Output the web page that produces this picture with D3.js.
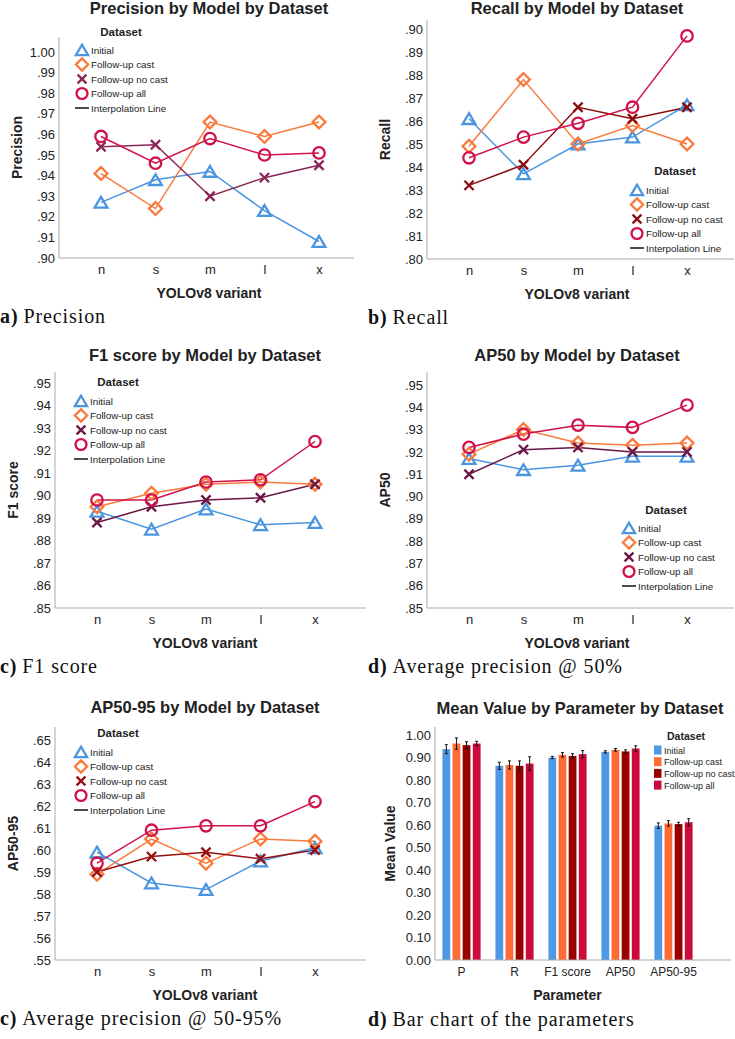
<!DOCTYPE html>
<html>
<head>
<meta charset="utf-8">
<script src="https://cdn.jsdelivr.net/npm/d3@7"></script>
<style>
body { margin: 0; background: #fff; }
svg text { font-family: Arial, "Liberation Sans", sans-serif; fill: #222; }
svg text.cap { font-family: "Liberation Serif", "Times New Roman", serif; fill: #111; letter-spacing: 0.9px; }
</style>
</head>
<body>
<svg id="fig" width="735" height="1039"></svg>
<script>
// data
const variants = ["n", "s", "m", "l", "x"];
const datasets = ["Initial", "Follow-up cast", "Follow-up no cast", "Follow-up all"];
// one row per dataset, one value per variant
const precisionVals = [
    [.927, .938, .942, .923, .908],
    [.941, .924, .966, .959, .966],
    [.954, .955, .930, .939, .945],
    [.959, .946, .958, .950, .951]];
const recallVals = [
    [.861, .837, .850, .853, .867],
    [.849, .878, .850, .858, .850],
    [.832, .841, .866, .861, .866],
    [.844, .853, .859, .866, .897]];
const f1Vals = [
    [.893, .885, .894, .887, .888],
    [.895, .901, .905, .906, .905],
    [.888, .895, .898, .899, .905],
    [.898, .898, .906, .907, .924]];
const ap50Vals = [
    [.917, .912, .914, .918, .918],
    [.919, .930, .924, .923, .924],
    [.910, .921, .922, .920, .920],
    [.922, .928, .932, .931, .941]];
const ap5095Vals = [
    [.599, .585, .582, .595, .601],
    [.589, .605, .594, .605, .604],
    [.590, .597, .599, .596, .600],
    [.594, .609, .611, .611, .622]];
// bar chart: one row per dataset, one value per parameter
const params = ["P", "R", "F1 score", "AP50", "AP50-95"];
const barMeans = [
    [.937, .863, .900, .925, .597],
    [.962, .867, .912, .934, .607],
    [.955, .863, .907, .927, .604],
    [.962, .873, .915, .940, .612]];
const barErrs = [
    [.020, .016, .005, .005, .012],
    [.025, .018, .010, .006, .012],
    [.015, .022, .010, .007, .008],
    [.010, .030, .016, .012, .016]];

// styles
const initialColor = "#4a95e0";
const castColor = "#f97a3c";
const allColor = "#d0124a";
const barColors = ["#4f98e4", "#ff6b35", "#990000", "#cc0a3c"];
const axisColor = "#a9a9a9";
const markerTypes = ["tri", "diamond", "x", "circle"];
const fmtTick = d => d3.format(".2f")(d).replace(/^0/, "");
const fontStack = "Arial, 'Liberation Sans', sans-serif";

const svg = d3.select("#fig");

const markerPath = (type, s) => {
    if (type === "tri") return `M0,${-s * 0.5}L${s * 0.58},${s * 0.48}L${-s * 0.58},${s * 0.48}Z`;
    if (type === "diamond") return `M0,${-s * 0.58}L${s * 0.58},0L0,${s * 0.58}L${-s * 0.58},0Z`;
    if (type === "x") return `M${-s * 0.42},${-s * 0.42}L${s * 0.42},${s * 0.42}M${s * 0.42},${-s * 0.42}L${-s * 0.42},${s * 0.42}`;
    const r = s * 0.52;
    return `M${r},0A${r},${r} 0 1,1 ${-r},0A${r},${r} 0 1,1 ${r},0`;
};

// panels with lines (layout only)
const linePanels = [
    { vals: precisionVals, title: "Precision by Model by Dataset", yLab: "Precision", cap: ["a)", "Precision"],
      left: 59, right: 354, top: 37, bottom: 258, tickMin: .90, tickTopPx: 52, noCast: "#8b2658", titleY: 14,
      leg: { tx: 121, ty: 36, mx: 82, ry: 50 } },
    { vals: recallVals, title: "Recall by Model by Dataset", yLab: "Recall", cap: ["b)", "Recall"],
      left: 427, right: 734, top: 20, bottom: 259, tickMin: .80, tickTopPx: 29, noCast: "#8c0f0f", titleY: 14,
      leg: { tx: 675, ty: 175, mx: 637, ry: 190 } },
    { vals: f1Vals, title: "F1 score by Model by Dataset", yLab: "F1 score", cap: ["c)", "F1 score"],
      left: 55, right: 366, top: 372, bottom: 608, tickMin: .85, tickTopPx: 383, noCast: "#6e1644", titleY: 361,
      leg: { tx: 118, ty: 386, mx: 81, ry: 401 } },
    { vals: ap50Vals, title: "AP50 by Model by Dataset", yLab: "AP50", cap: ["d)", "Average precision @ 50%"],
      left: 427, right: 734, top: 372, bottom: 608, tickMin: .85, tickTopPx: 385, noCast: "#6b1646", titleY: 361,
      leg: { tx: 666, ty: 514, mx: 629, ry: 528 } },
    { vals: ap5095Vals, title: "AP50-95 by Model by Dataset", yLab: "AP50-95", cap: ["c)", "Average precision @ 50-95%"],
      left: 55, right: 366, top: 727, bottom: 960, tickMin: .55, tickTopPx: 740, noCast: "#980f0f", titleY: 713,
      leg: { tx: 118, ty: 737, mx: 81, ry: 752 } }
];

const drawFrame = (g, p) => {
    g.append("path")
        .attr("d", `M${p.left},${p.top}V${p.bottom}H${p.right}`)
        .attr("fill", "none")
        .attr("stroke", axisColor)
        .attr("stroke-width", 1);
};

const styleAxisText = (a, size) => a.selectAll("text")
    .attr("font-size", size).attr("fill", "#333").attr("font-family", fontStack);

const drawTexts = (g, p, xTitle, midX) => {
    g.append("text")
        .attr("x", midX).attr("y", p.titleY)
        .attr("text-anchor", "middle")
        .attr("font-weight", "bold").attr("font-size", 16.5)
        .text(p.title);
    g.append("text")
        .attr("x", midX).attr("y", p.bottom + 40)
        .attr("text-anchor", "middle")
        .attr("font-weight", "bold").attr("font-size", 14)
        .text(xTitle);
    g.append("text")
        .attr("transform", `translate(${p.left - 42},${(p.top + p.bottom) / 2}) rotate(-90)`)
        .attr("text-anchor", "middle")
        .attr("dominant-baseline", "central")
        .attr("font-weight", "bold").attr("font-size", 14)
        .text(p.yLab);
    const cap = g.append("text")
        .attr("class", "cap")
        .attr("x", p.left < 200 ? 0 : 368).attr("y", p.bottom + 65)
        .attr("font-size", 20);
    cap.append("tspan").attr("font-weight", "bold").text(p.cap[0]);
    cap.append("tspan").attr("dx", 5).text(p.cap[1]);
};

const drawLinePanel = (p) => {
    const g = svg.append("g");
    const colors = [initialColor, castColor, p.noCast, allColor];
    const x = d3.scalePoint().domain(variants).range([p.left + 42, p.left + 260]);
    const y = d3.scaleLinear().domain([p.tickMin, p.tickMin + 0.1]).range([p.bottom, p.tickTopPx]);
    const ticks = d3.range(11).map(i => +(p.tickMin + i * 0.01).toFixed(2));

    drawFrame(g, p);
    g.append("g")
        .attr("transform", `translate(${p.left},0)`)
        .call(d3.axisLeft(y).tickValues(ticks).tickSize(0).tickPadding(4).tickFormat(fmtTick))
        .call(a => a.select(".domain").remove())
        .call(a => styleAxisText(a, 13));
    g.append("g")
        .attr("transform", `translate(0,${p.bottom})`)
        .call(d3.axisBottom(x).tickSize(0).tickPadding(7))
        .call(a => a.select(".domain").remove())
        .call(a => styleAxisText(a, 13));

    const line = d3.line().x((d, i) => x(variants[i])).y(d => y(d));
    g.selectAll(".series")
        .data(p.vals)
        .enter()
        .append("path")
        .attr("d", d => line(d))
        .attr("fill", "none")
        .attr("stroke", (d, i) => colors[i])
        .attr("stroke-width", 1.5);
    p.vals.forEach((row, si) => {
        g.selectAll(null)
            .data(row)
            .enter()
            .append("path")
            .attr("transform", (d, i) => `translate(${x(variants[i])},${y(d)})`)
            .attr("d", markerPath(markerTypes[si], 11))
            .attr("fill", "none")
            .attr("stroke", colors[si])
            .attr("stroke-width", 2.3);
    });

    // legend
    const lg = g.append("g");
    lg.append("text")
        .attr("x", p.leg.tx).attr("y", p.leg.ty)
        .attr("text-anchor", "middle")
        .attr("font-weight", "bold").attr("font-size", 11.5)
        .text("Dataset");
    const step = 14.5;
    datasets.forEach((name, i) => {
        const yy = p.leg.ry + i * step;
        lg.append("path")
            .attr("transform", `translate(${p.leg.mx},${yy})`)
            .attr("d", markerPath(markerTypes[i], 10.5))
            .attr("fill", "none")
            .attr("stroke", colors[i])
            .attr("stroke-width", 2.3);
        lg.append("text")
            .attr("x", p.leg.mx + 9).attr("y", yy + 3.5)
            .attr("font-size", 9.8)
            .text(name);
    });
    const yi = p.leg.ry + 4 * step;
    lg.append("line")
        .attr("x1", p.leg.mx - 7).attr("x2", p.leg.mx + 7)
        .attr("y1", yi).attr("y2", yi)
        .attr("stroke", "#111").attr("stroke-width", 1.5);
    lg.append("text")
        .attr("x", p.leg.mx + 9).attr("y", yi + 3.5)
        .attr("font-size", 9.8)
        .text("Interpolation Line");

    drawTexts(g, p, "YOLOv8 variant", p.left + 150);
};

linePanels.forEach(drawLinePanel);

// bar chart panel
const bp = { left: 435, right: 731, top: 727, bottom: 960, bandEnd: 700 };
const drawBarPanel = () => {
    const g = svg.append("g");
    const x0 = d3.scaleBand().domain(params).range([bp.left, bp.bandEnd]).paddingInner(0.28).paddingOuter(0.14);
    const x1 = d3.scaleBand().domain(datasets).range([0, x0.bandwidth()]).paddingInner(0.23);
    const y = d3.scaleLinear().domain([0, 1]).range([bp.bottom, 735]);

    g.append("g")
        .attr("transform", `translate(${bp.left},0)`)
        .call(d3.axisLeft(y).tickValues(d3.range(11).map(i => i / 10)).tickSize(0).tickPadding(4).tickFormat(d3.format(".2f")))
        .call(a => a.select(".domain").remove())
        .call(a => styleAxisText(a, 13));
    g.append("g")
        .attr("transform", `translate(0,${bp.bottom})`)
        .call(d3.axisBottom(x0).tickSize(0).tickPadding(7))
        .call(a => a.select(".domain").remove())
        .call(a => styleAxisText(a, 12));

    barMeans.forEach((row, si) => {
        const grp = g.append("g");
        grp.selectAll("rect")
            .data(row)
            .enter()
            .append("rect")
            .attr("x", (d, i) => x0(params[i]) + x1(datasets[si]))
            .attr("y", d => y(d))
            .attr("width", x1.bandwidth())
            .attr("height", d => bp.bottom - y(d))
            .attr("fill", barColors[si]);
        const cx = i => x0(params[i]) + x1(datasets[si]) + x1.bandwidth() / 2;
        grp.selectAll("path")
            .data(row)
            .enter()
            .append("path")
            .attr("d", (d, i) => {
                const e = barErrs[si][i];
                const yt = y(d + e), yb = y(d - e), c = cx(i);
                return `M${c},${yt}V${yb}M${c - 1.5},${yt}H${c + 1.5}M${c - 1.5},${yb}H${c + 1.5}`;
            })
            .attr("fill", "none")
            .attr("stroke", "#111")
            .attr("stroke-width", 1);
    });

    drawFrame(g, bp);

    // legend
    g.append("text")
        .attr("x", 686).attr("y", 740)
        .attr("text-anchor", "middle")
        .attr("font-weight", "bold").attr("font-size", 10.5)
        .text("Dataset");
    datasets.forEach((name, i) => {
        const yy = 750 + i * 11.7;
        g.append("rect")
            .attr("x", 654).attr("y", yy - 4.5)
            .attr("width", 7.5).attr("height", 9)
            .attr("fill", barColors[i]);
        g.append("text")
            .attr("x", 664).attr("y", yy + 3.5)
            .attr("font-size", 9)
            .text(name);
    });

    g.append("text")
        .attr("x", 580).attr("y", 714)
        .attr("text-anchor", "middle")
        .attr("font-weight", "bold").attr("font-size", 16.5)
        .text("Mean Value by Parameter by Dataset");
    g.append("text")
        .attr("x", (bp.left + bp.bandEnd) / 2).attr("y", 1000)
        .attr("text-anchor", "middle")
        .attr("font-weight", "bold").attr("font-size", 14)
        .text("Parameter");
    g.append("text")
        .attr("transform", `translate(390,${(bp.top + bp.bottom) / 2}) rotate(-90)`)
        .attr("text-anchor", "middle")
        .attr("dominant-baseline", "central")
        .attr("font-weight", "bold").attr("font-size", 14)
        .text("Mean Value");
    const cap = g.append("text")
        .attr("class", "cap")
        .attr("x", 368).attr("y", 1026)
        .attr("font-size", 20);
    cap.append("tspan").attr("font-weight", "bold").text("d)");
    cap.append("tspan").attr("dx", 5).text("Bar chart of the parameters");
};
drawBarPanel();
</script>
</body>
</html>
